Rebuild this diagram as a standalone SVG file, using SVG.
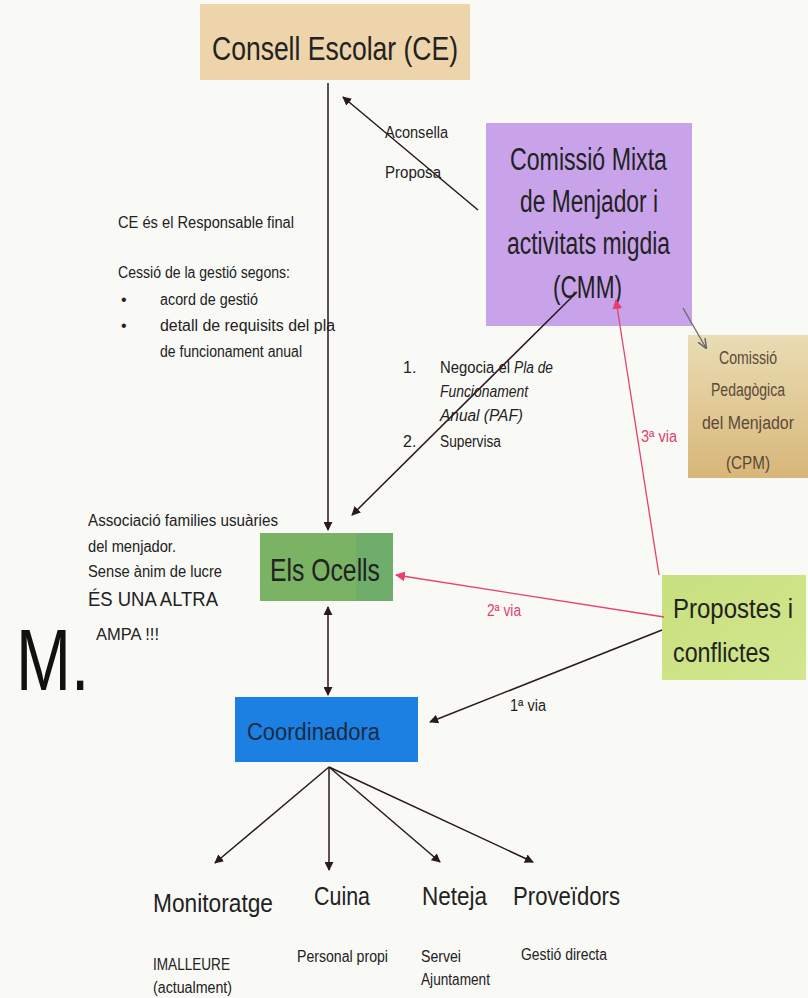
<svg xmlns="http://www.w3.org/2000/svg" width="808" height="998" viewBox="0 0 808 998">
<defs>
<style>
text{font-family:"Liberation Sans",Arial,sans-serif;fill:#222}
.sm{font-size:16px}
.red{fill:#e0406e}
.ln{stroke:#2a1a1a;stroke-width:1.5;fill:none}
.rl{stroke:#e8406a;stroke-width:1.3;fill:none}
.cp{font-size:18px;fill:#5a4a3a}
</style>
<marker id="ah" viewBox="0 0 10 10" refX="9" refY="5" markerWidth="9" markerHeight="9" orient="auto-start-reverse" markerUnits="userSpaceOnUse"><path d="M0,0 L10,5 L0,10 z" fill="#2a1a1a"/></marker>
<marker id="ar" viewBox="0 0 10 10" refX="9" refY="5" markerWidth="10" markerHeight="10" orient="auto" markerUnits="userSpaceOnUse"><path d="M0,0 L10,5 L0,10 z" fill="#e8406a"/></marker>
<marker id="ag" viewBox="0 0 10 10" refX="9" refY="5" markerWidth="10" markerHeight="10" orient="auto" markerUnits="userSpaceOnUse"><path d="M0,1 L10,5 L0,9" fill="none" stroke="#666" stroke-width="1.5"/></marker>
<linearGradient id="gcpm" x1="0" y1="0" x2="0" y2="1"><stop offset="0" stop-color="#e9ddb4"/><stop offset="1" stop-color="#d8b679"/></linearGradient>
<linearGradient id="gprop" x1="0" y1="0" x2="1" y2="1"><stop offset="0" stop-color="#c8e07e"/><stop offset="1" stop-color="#d2e68e"/></linearGradient>
</defs>
<rect width="808" height="998" fill="#f9f9f6"/>

<g id="ce">
<rect x="200" y="4" width="270" height="76" fill="#eed4ab"/>
<text x="212" y="60" font-size="33" textLength="246" lengthAdjust="spacingAndGlyphs">Consell Escolar (CE)</text>
</g>

<g id="cmm">
<rect x="486" y="123" width="206" height="203" fill="#c8a3ea"/>
<text x="510" y="170" font-size="31" textLength="157" lengthAdjust="spacingAndGlyphs">Comissió Mixta</text>
<text x="520" y="212" font-size="31" textLength="138" lengthAdjust="spacingAndGlyphs">de Menjador i</text>
<text x="507" y="254" font-size="31" textLength="163" lengthAdjust="spacingAndGlyphs">activitats migdia</text>
<text x="553" y="298" font-size="31" textLength="69" lengthAdjust="spacingAndGlyphs">(CMM)</text>
</g>

<g id="cpm">
<rect x="688" y="335" width="120" height="143" fill="url(#gcpm)"/>
<text class="cp" x="748" y="364" text-anchor="middle" textLength="58" lengthAdjust="spacingAndGlyphs">Comissió</text>
<text class="cp" x="748" y="396" text-anchor="middle" textLength="74" lengthAdjust="spacingAndGlyphs">Pedagògica</text>
<text class="cp" x="748" y="429" text-anchor="middle" textLength="92" lengthAdjust="spacingAndGlyphs">del Menjador</text>
<text class="cp" x="748" y="469" text-anchor="middle" textLength="44" lengthAdjust="spacingAndGlyphs">(CPM)</text>
</g>

<g id="ce-notes">
<text class="sm" x="118" y="228" textLength="176" lengthAdjust="spacingAndGlyphs">CE és el Responsable final</text>
<text class="sm" x="118" y="278" textLength="172" lengthAdjust="spacingAndGlyphs">Cessió de la gestió segons:</text>
<text class="sm" x="121" y="305">•</text>
<text class="sm" x="160" y="305" textLength="98" lengthAdjust="spacingAndGlyphs">acord de gestió</text>
<text class="sm" x="121" y="331">•</text>
<text class="sm" x="160" y="331" textLength="175" lengthAdjust="spacingAndGlyphs">detall de requisits del pla</text>
<text class="sm" x="160" y="357" textLength="142" lengthAdjust="spacingAndGlyphs">de funcionament anual</text>
</g>

<g id="paf-notes">
<text class="sm" x="403" y="373">1.</text>
<text class="sm" x="440" y="373" textLength="70" lengthAdjust="spacingAndGlyphs">Negocia el</text>
<text class="sm" x="514" y="373" font-style="italic" textLength="39" lengthAdjust="spacingAndGlyphs">Pla de</text>
<text class="sm" x="440" y="397" font-style="italic" textLength="88" lengthAdjust="spacingAndGlyphs">Funcionament</text>
<text class="sm" x="440" y="421" font-style="italic" textLength="83" lengthAdjust="spacingAndGlyphs">Anual (PAF)</text>
<text class="sm" x="403" y="447">2.</text>
<text class="sm" x="440" y="447" textLength="61" lengthAdjust="spacingAndGlyphs">Supervisa</text>
</g>

<g id="assoc-notes">
<text class="sm" x="88" y="526" textLength="190" lengthAdjust="spacingAndGlyphs">Associació families usuàries</text>
<text class="sm" x="88" y="552" textLength="88" lengthAdjust="spacingAndGlyphs">del menjador.</text>
<text class="sm" x="88" y="577" textLength="134" lengthAdjust="spacingAndGlyphs">Sense ànim de lucre</text>
<text x="88" y="606" font-size="20" textLength="130" lengthAdjust="spacingAndGlyphs">ÉS UNA ALTRA</text>
<text x="96" y="640" font-size="16" textLength="63" lengthAdjust="spacingAndGlyphs">AMPA !!!</text>
</g>

<g id="ocells">
<rect x="260" y="533" width="133" height="68" fill="#7ab363"/>
<rect x="356" y="533" width="37" height="68" fill="#6fae6a"/>
<text x="270" y="581" font-size="31" textLength="110" lengthAdjust="spacingAndGlyphs">Els Ocells</text>
</g>

<g id="propostes">
<rect x="662" y="575" width="144" height="105" fill="url(#gprop)"/>
<text x="673" y="618" font-size="27" textLength="120" lengthAdjust="spacingAndGlyphs">Propostes i</text>
<text x="673" y="662" font-size="27" textLength="97" lengthAdjust="spacingAndGlyphs">conflictes</text>
</g>

<g id="coordinadora">
<rect x="235" y="697" width="183" height="65" fill="#1c80e3"/>
<text x="247" y="740" font-size="23" style="fill:#1a2a40" textLength="133" lengthAdjust="spacingAndGlyphs">Coordinadora</text>
</g>

<g id="monitoratge">
<text x="153" y="912" font-size="26" textLength="120" lengthAdjust="spacingAndGlyphs">Monitoratge</text>
<text class="sm" x="153" y="970" textLength="77" lengthAdjust="spacingAndGlyphs">IMALLEURE</text>
<text class="sm" x="153" y="993" textLength="79" lengthAdjust="spacingAndGlyphs">(actualment)</text>
</g>
<g id="cuina">
<text x="314" y="905" font-size="26" textLength="56" lengthAdjust="spacingAndGlyphs">Cuina</text>
<text class="sm" x="297" y="962" textLength="91" lengthAdjust="spacingAndGlyphs">Personal propi</text>
</g>
<g id="neteja">
<text x="422" y="905" font-size="26" textLength="65" lengthAdjust="spacingAndGlyphs">Neteja</text>
<text class="sm" x="421" y="962" textLength="40" lengthAdjust="spacingAndGlyphs">Servei</text>
<text class="sm" x="421" y="985" textLength="69" lengthAdjust="spacingAndGlyphs">Ajuntament</text>
</g>
<g id="proveidors">
<text x="513" y="905" font-size="26" textLength="107" lengthAdjust="spacingAndGlyphs">Proveïdors</text>
<text class="sm" x="521" y="960" textLength="86" lengthAdjust="spacingAndGlyphs">Gestió directa</text>
</g>

<text transform="translate(16,690) scale(1,1.33)" x="0" y="0" font-size="66" style="fill:#111">M.</text>

<g id="connectors">
<line class="ln" x1="328" y1="83" x2="328" y2="530" marker-end="url(#ah)"/>
<line class="ln" x1="478" y1="210" x2="343" y2="97" marker-end="url(#ah)"/>
<line class="ln" x1="577" y1="292" x2="352" y2="515" marker-end="url(#ah)"/>
<line x1="683" y1="308" x2="706" y2="348" stroke="#666" stroke-width="1.3" marker-end="url(#ag)"/>
<line class="rl" x1="659" y1="575" x2="616" y2="300" marker-end="url(#ar)"/>
<line class="rl" x1="664" y1="617" x2="396" y2="575" marker-end="url(#ar)"/>
<line class="ln" x1="328" y1="607" x2="328" y2="695" marker-start="url(#ah)" marker-end="url(#ah)"/>
<line class="ln" x1="662" y1="630" x2="430" y2="722" marker-end="url(#ah)"/>
<line class="ln" x1="329" y1="767" x2="215" y2="863" marker-end="url(#ah)"/>
<line class="ln" x1="329" y1="767" x2="329" y2="870" marker-end="url(#ah)"/>
<line class="ln" x1="329" y1="767" x2="440" y2="862" marker-end="url(#ah)"/>
<line class="ln" x1="329" y1="767" x2="533" y2="862" marker-end="url(#ah)"/>
<text class="sm" x="385" y="138" textLength="63" lengthAdjust="spacingAndGlyphs">Aconsella</text>
<text class="sm" x="385" y="178" textLength="56" lengthAdjust="spacingAndGlyphs">Proposa</text>
<text class="sm red" x="641" y="442" textLength="36" lengthAdjust="spacingAndGlyphs">3ª via</text>
<text class="sm red" x="487" y="616" textLength="34" lengthAdjust="spacingAndGlyphs">2ª via</text>
<text class="sm" x="510" y="711" textLength="36" lengthAdjust="spacingAndGlyphs">1ª via</text>
</g>
</svg>
